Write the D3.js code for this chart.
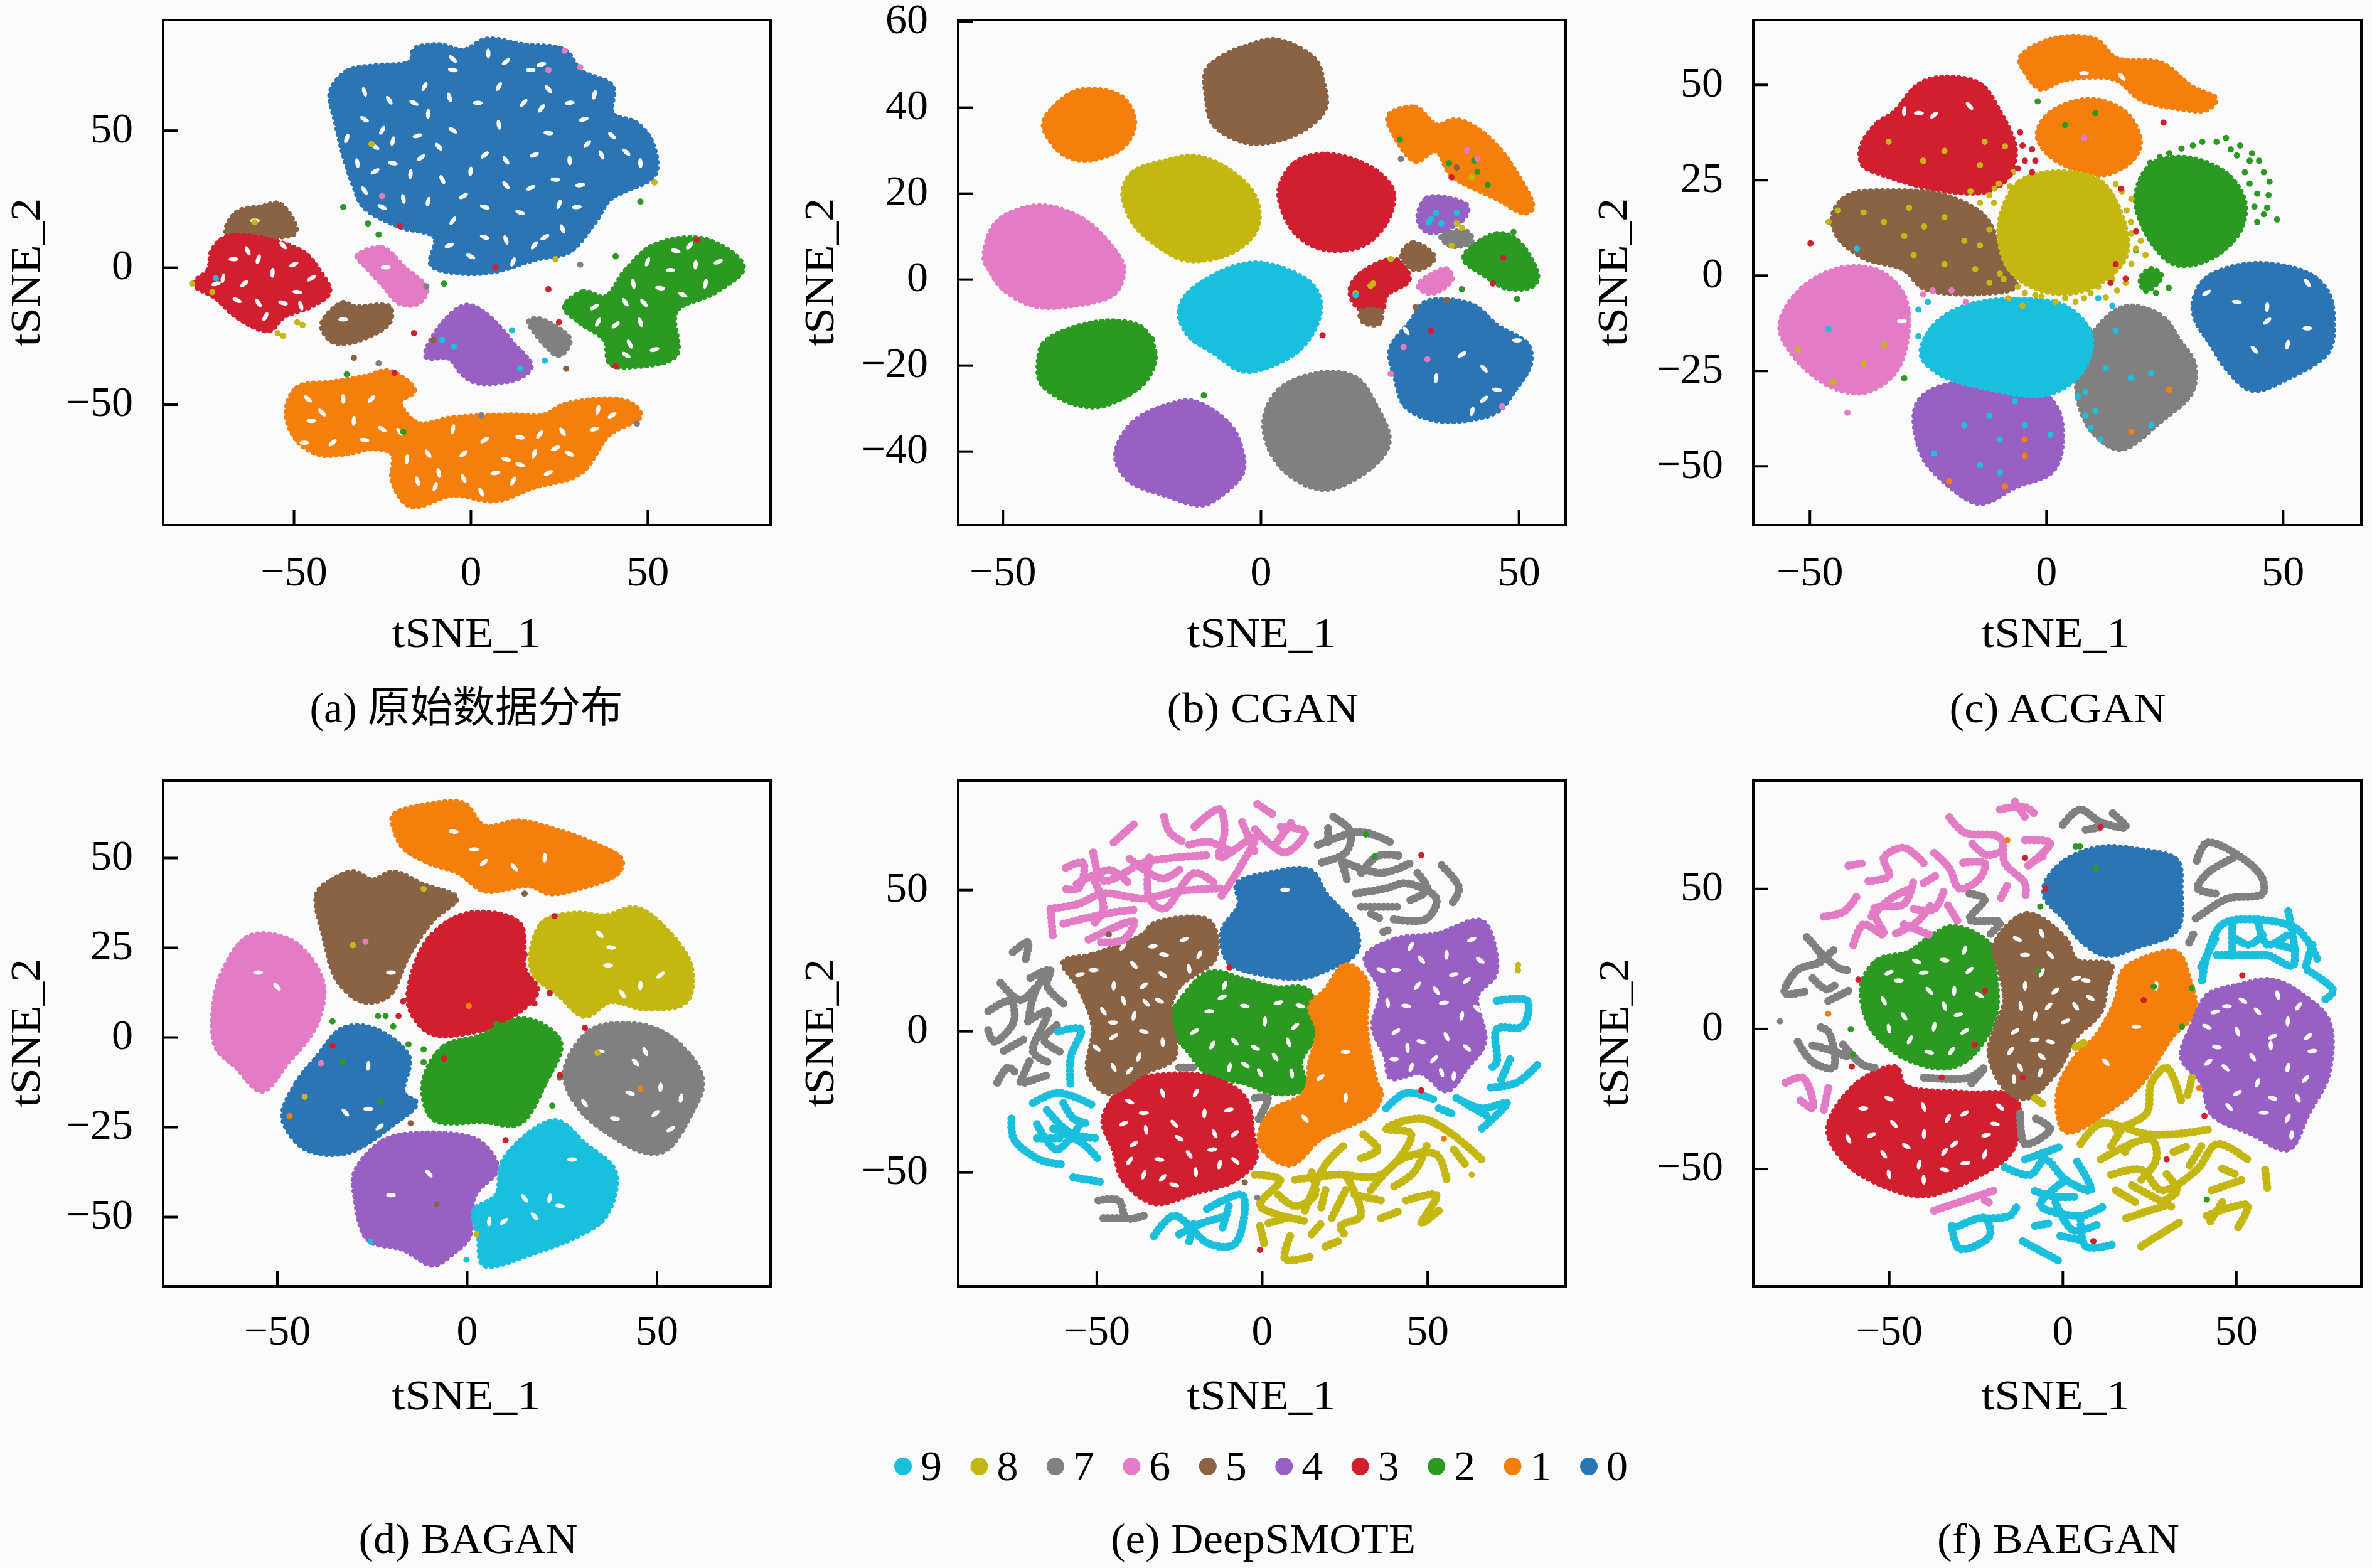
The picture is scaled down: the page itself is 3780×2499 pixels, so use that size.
<!DOCTYPE html>
<html><head><meta charset="utf-8">
<script src="https://cdn.jsdelivr.net/npm/d3@7/dist/d3.min.js"></script>
<style>html,body{margin:0;background:#fbfbfb}svg{display:block}text{font-family:"Liberation Serif","Noto Sans CJK SC",serif;fill:#000}</style>
</head><body><svg id="c" width="3780" height="2499"></svg>
<script>
// Scatter clouds are summarised by values: [class, outline, gaps],
// [class, strand], and [class, individual points], all in tSNE units.
const classes=[0,1,2,3,4,5,6,7,8,9];
const legendOrder=[9,8,7,6,5,4,3,2,1,0];
const classColors=["#2b75b5","#f57f0b","#2c9a22","#d21f2f","#9960c4","#8a6244","#e37cc5","#808080","#c4b711","#19bfdc"];
const xLabel="tSNE_1", yLabel="tSNE_2";
const captions=["(a) 原始数据分布","(b) CGAN","(c) ACGAN","(d) BAGAN","(e) DeepSMOTE","(f) BAEGAN"];
const xTicks=[[-50,0,50],[-50,0,50],[-50,0,50],[-50,0,50],[-50,0,50],[-50,0,50]];
const yTicks=[[-50,0,50],[-40,-20,0,20,40,60],[-50,-25,0,25,50],[-50,-25,0,25,50],[-50,0,50],[-50,0,50]];
const xDomains=[[-86.9,84.8],[-58.6,59.1],[-61.9,66.6],[-80,80],[-91.8,91.8],[-89.1,86.1]];
const yDomains=[[-94.05,90.2],[-57.2,60.3],[-65.5,66.9],[-69.4,71.5],[-90.4,88.7],[-92,88.6]];

const aBlobs=[
[1,[-52,-53,-49,-44,-39,-42,-30,-40,-23,-38,-16,-45,-20,-49,-15,-57,-5,-55,11,-54,21,-54,27,-50,44,-49,48,-54,39,-61,31,-75,18,-80,7,-85,-5,-83,-17,-87,-22,-78,-22,-68,-27,-66,-36,-68,-43,-68,-49,-63],
 [-45,-56,-42,-53,-33,-56,-39,-64,-30,-63,-12,-68,-5,-59,4,-63,10,-70,-2,-77,18,-68,22,-75,28,-68,-15,-78,12,-78,35,-59,-25,-59,-9,-75,19.5,-61,7,-75,-46,-48,-36,-48,-28,-48,-47,-64,-20,-60,-18,-70,-2,-68,14,-62,26,-60,36,-52,40,-54,14,-72,3,-82,-10,-80,24,-66]],
[0,[-39.5,63.9,-34.6,71.6,-27.5,73.3,-16.8,75,-16,79.3,-9,81,-2,79,4.5,83,15,81,26.6,79,31,71.6,40,66,40,56,46.5,52.7,51,46,52,34,39.4,25,35,16.5,28,6,18,3,8,-1,-2,-2,-11,1,-10,11,-20,15,-30,22,-33,30,-36,42,-38,53],
 [17,72,22,65,-12,56,4,41,22,49,10,39,-22,46,-27,35,4,22,-8,32,25,23,17,29,0,4,10,10,-13,66,32,54,-30,54,-19,25,-5,17,31,30,44,42,28,39,15,60,2,60,-9,44,-17,34,10,75,-5,72,-23,61,35,63,21,11,4,11,37,41,-35,47,18,41,-25,22,-30,64,-25,50,-15,48,-5,50,8,52,20,58,28,60,40,48,48,38,33,45,24,32,10,30,0,35,-14,40,-22,38,-30,28,-12,24,-2,26,14,20,26,14,12,2,-6,8,-16,60,-6,62,8,66,20,74,-27,44,-32,38,18,8,30,22,-5,76,5,78]],
[5,[-69,13,-66,20,-59,22,-54,23,-49.5,13,-56,11,-64,11],[-61,17]],
[3,[-78,-6,-74,-1,-73,6,-69,11,-57,10,-47,5,-43,-1,-40,-9,-45,-14,-53,-18,-57,-23,-66,-18,-72,-11],
 [-67,3,-53,8,-56,-2,-64,-6,-49,-9,-60,-13,-70,-4,-45,-4,-53,-13,-63,6,-60,3,-50,1,-66,-12,-48,-14,-58,-18,-72,-6]],
[5,[-42,-21,-36,-13,-33,-14.5,-23,-14.5,-23,-20,-33,-27,-39,-27],[-36,-19]],
[6,[-32,4,-25,7,-19,0,-12.5,-8,-15,-13,-20,-13,-25,-6,-30,1],[-24,0]],
[4,[-12.5,-32.5,-7.5,-20,-1,-14,5,-18,12,-28,17,-36,14,-40,2,-42,-2.5,-38.5,-6,-33],[]],
[2,[26.6,-14.5,32,-9,38,-11,44,-1,52,8,66.5,10,77,0,69,-9,58,-16,58,-32,46.5,-36,39.5,-35,38,-26.5,31,-20],
 [56.5,-1,49,-13,63.6,1,41,-21,53.6,-7.6,43.7,-12.7,66.4,-6,35,-14.5,58,6,45,-28,50,2,70,2,60,-10,48,-20,36,-20,52,-30,44,-32,46,-6,62,8]],
[7,[16.6,-19.6,19.5,-19,28,-26.5,25,-32,21,-28],[]]];
const aStrands=[];
const aSpecks=[
[8,[-54.5,-24,-53,-25,-49,-20,-47.5,-21,-61,16.5,-78.7,-6,-73,-9,-28,45,52,31,24,3]],
[2,[-36,22,-29,16,-26,12,48,24,41,4,-7.5,-6,-35,-39,-19,-60]],
[3,[-20,15,7,0,22,-8,25,-20,-16,-24,64,10,41,-36,-21.5,-38.5]],
[5,[-33,-33,27,-37,-10.5,-26.5]],
[9,[-4.7,-29,11.7,-23,21,-34,-8,-26.5,14,-37,-72,-4]],
[6,[26.6,79,31,73,22,72,-25,26]],
[7,[31,1,-26,-35,-12.5,-7,3,-54,47,-57]]];

const bBlobs=[
[5,[-10.5,48.5,-7,52,-3,54,3,55.6,10.5,51,12,46,12.5,40,8.5,35,1.8,32,-3,32,-9,36,-10.5,43],[]],
[1,[-42,36.4,-40,40,-36,43.5,-31.5,44,-26.6,42,-24.5,36.4,-26.6,31,-32.5,28,-37.4,28.6,-40.8,32.5],[]],
[8,[-26.6,20.4,-24.7,24.8,-17.8,27.6,-13,28.5,-7,26,-1.2,19.3,-0.7,12.2,-5,6.7,-14,4.5,-19.8,7.8,-24.7,13.3],[]],
[3,[3.7,21,6.7,27,12.5,29,20.4,26.5,24.3,23,25.7,19.9,24.3,13.3,19.4,7.8,11.5,7.3,6.7,11,4.2,16.6],[]],
[6,[-53.5,5,-51,13.3,-43,17,-34.4,13.8,-28.4,6.7,-26.6,2.3,-28.4,-3.2,-36.4,-6,-44,-6,-50,-2,-52.5,2.3],[]],
[9,[-15.7,-7.6,-13.9,-3.2,-5,2.9,1.3,3.4,9.6,-1,11.5,-5.4,10.6,-10.9,6.7,-17,-3,-21.3,-9,-17,-13.9,-13],[]],
[2,[-43,-19.7,-42,-15,-36.4,-11.4,-28.6,-9.8,-23,-11.4,-20.5,-18,-22.7,-24,-28.6,-28.5,-32.5,-29.6,-38,-28,-42.5,-24],[]],
[4,[-28,-41,-24.7,-33.4,-17,-29,-13,-28.5,-6,-34,-3.6,-40.5,-3.6,-45,-8,-50.4,-11.4,-52.4,-18.8,-50,-25.6,-46.6],[]],
[7,[0.8,-32.3,3.7,-25.7,11.5,-21.9,18.4,-23,22.3,-29.6,24.8,-37.8,21.3,-43.8,12.5,-48.8,5.7,-45.5,1.8,-39.5],[]],
[0,[25.2,-16.4,29.2,-9.8,32,-5.4,40.9,-6,45.8,-10.9,51.7,-15.3,52.2,-19.7,48.8,-26.3,45.8,-30.7,35,-32.9,28.2,-29.6,26.2,-23],
 [49.7,-14.2,43.3,-20.8,34,-23,43.3,-27.9,45.8,-25.7,28.2,-12,41,-30.7,39,-17.5]],
[1,[24.8,38,30,39.9,34,35.8,38,37,44,33,49.7,24.3,52.6,16.6,51.2,15.5,45.8,18.8,37,24.3,34,30,30,27.6,26.2,33],[]],
[4,[30.6,13.8,32.3,18.8,40,17,39,13.8,32.6,11],[]],
[2,[39.4,5,45.8,10.5,49.7,8.9,53.6,0.7,52.6,-1.5,47.7,-2,43.8,0.7],[]],
[3,[17.4,-2.6,19.4,1.2,26.2,4.5,28.7,0,24.3,-3.7,23.3,-7.6,18.9,-6.5],[]],
[5,[27.4,5.6,29.6,8.4,33.6,5,30,2.3],[]],
[5,[19.4,-7.6,23.3,-7.6,22.8,-10.3,19.9,-9.8],[]],
[6,[30.6,-1.5,36,2.3,37,0,33,-3.2],[]],
[7,[35,10,40,11,40.9,8.9,37,7.8],[]]];
const bStrands=[];
const bSpecks=[
[8,[25.2,4.7,39,12,21.3,-1.5,40.9,23.7,18.4,-3.2,21.8,-1,37,7.8,38,13,40,30]],
[7,[27.2,28]],
[2,[27,32.5,41.4,27.6,49.7,-4.6,39,-2.3,-21,-14,-11,-27,36.5,27,49,11,42,25,44,22]],
[3,[37,23.7,12,-13,33,-12,47,5,45,-1]],
[6,[32.3,-18.6,27.7,-15.8,46.8,-29.6,25.2,-22,40,30,42,28]],
[9,[32.6,13.3,34,15.5,18.4,-3.7,38,15.5,33,14,35,13]],
[5,[36,-4.8,30,-6.5,32.9,4.5,38,26]]];

const cBlobs=[
[1,[-5.5,56.8,0.9,61.7,10.4,61.7,14.7,56.8,24.3,55.5,30.7,49.3,35.8,46.2,33.9,43.5,28.5,43.7,20,46.2,14.7,51.4,4,51.4,-1.3,49,-4.5,53.7],[8,53,16,52]],
[1,[-1.8,37,0.9,42.5,9.4,46,16.8,42.5,19.8,35,17.9,30,11.5,26.4,4,29,-0.2,32.7],[]],
[3,[-39,33.8,-35.4,40,-32.2,42.5,-26.8,50,-21.5,51.8,-14,50,-10.3,43.7,-6.6,32.6,-8.7,25,-13,22,-23.7,22.7,-34.3,26.4,-38.7,29],[-26.9,42.5,-16.2,44.4,-30,43,-23.7,42]],
[5,[-45,15.9,-41.8,20.8,-32.2,22,-21.5,20.8,-13,15.2,-9.8,6.6,-6.6,-2.7,-13,-4.6,-25.8,-3.3,-30,1.6,-38.6,4.7,-44,10.3],[]],
[8,[-9.3,16.5,-5.5,24.5,3,27,11.5,24.5,16.3,14,16.8,5.3,12.6,-0.9,5.1,-4.6,-2.3,-3.3,-7.7,1.6,-9.8,9],[]],
[2,[19,20.2,22.2,28.9,29.6,30.7,38.2,26.4,41.9,19,40.8,11.5,35,4.7,27.5,2.9,22.2,9],[]],
[2,[20,-0.9,22.2,1.6,24.3,-0.2,21,-4],[]],
[6,[-56.2,-13.3,-52.5,-4.6,-44,1.6,-35.4,1,-30,-5.8,-29.5,-17,-32.2,-25.7,-38.6,-30.6,-46,-28.7,-53.5,-20.7],[-30.5,-12]],
[4,[-27.4,-34.3,-22.6,-29.4,-2.3,-30,2.5,-35.6,3,-46.7,0.9,-51.7,-6.6,-55.4,-14,-59.7,-21.5,-54,-26.3,-46.7],[]],
[7,[6.7,-25,10.4,-14.5,16.8,-8.3,24.3,-10.8,28,-17,31.2,-23.2,30.7,-30.6,24.3,-38,15.8,-45.5,10.4,-41.8,7.2,-34.3],[]],
[9,[-26.3,-20.7,-23.7,-13.3,-17.3,-8.3,-6.6,-6.4,4,-8.3,9.4,-15.7,7.2,-25.7,-0.2,-31.2,-13,-29.4,-22.6,-25.7],[]],
[0,[31.2,-7,33.9,-0.9,43.5,2.9,55.2,0.4,59.5,-4.6,60.6,-13.3,59.5,-20,51,-26.9,43.5,-30,38.2,-24.4,35,-18.2,31.8,-12],
 [55.2,-13.9,44,-19.5,46.7,-8.3,46.7,-12,40.3,-7,55.2,-2,51,-18.2,33.9,-4.6]]];
const cStrands=[];
const cSpecks=[
[2,[22,29.5,24,31,26,32,28.6,33.2,31,34,33,35,36,35,38,36,41,34,43.5,32,45,30,46,27,47.2,24.5,47,21,46.7,17.7,48.8,14.6,40.3,31.4,42,27,43,24,44.6,21.4,44,18,44.6,14,46,16,43,30,39,33,-1.8,45.6,10.4,42.5,4,39.4,29.6,12.8,36,16.5,28.6,23.9,19,6.6,23.2,-4.6,25.9,-3.3,-30,-27]],
[8,[-38.6,16.5,-34.3,14,-29,17.7,-25.8,12.8,-21.5,15.2,-17.3,9,-14,7.8,-21.5,2.9,-28,5.3,-15,1.6,-30,10.3,-33.3,35,-21.5,32.6,-13,35,-26,30,-14,28.9,-8.7,33.8,-10.9,22.7,-14,19,17.9,14,20,9,16.8,-2,12.6,-5.8,9.4,-4.6,6.2,-7,-7.7,23.3,-4.5,-4.6,-2.3,-5.2,21,5.3,-9.8,0.4,14.7,23.9,-34.3,-18.2,-38.6,-23.2,-52.5,-19.5,-45,-28,-12,21,18,11,19,7,15,-4,-10,24,-7,27,-11,19,-12,12,17,17,18,20,16,22,18,3,14,-1,11,-3,8,-6,-1,-5.5,-6,-3,-9,-1,-8,-6,-5,-8,-12,-2,2,-7,4,-6,-16,22,-46,14,-44,17]],
[3,[-5.5,37.5,-4.5,30,-2.3,30,-7.7,26.4,15.8,22.7,19,11.5,16.8,-0.9,24.8,40,-49.8,8.4,14.7,2.9,13.6,-2,-5,34,-6,28,-3,27,-8,37,-3,33]],
[9,[8.3,-30.6,12.6,-24.4,17.9,-26.9,22.2,-25.7,14.7,-14.5,10.4,-35.6,9.4,-40,22.2,-39.3,-14,-49.8,-9.8,-43,-23.7,-46.7,-6.6,-33,-9.8,-51.7,-12,-36.8,-4.5,-39.3,-17.3,-39.3,0.9,-41.8,6.7,-31.8,8.3,-36.8,11.5,-43,-40,7,-46,-14,-27,-16,-27,-9,-25,-7,11,-6,14,-8]],
[1,[-4.5,-43,-8.7,-55.4,-20.5,-54,-4.5,-47.3,26,-30,18,-41]],
[6,[-20,-4,-17,-7,8,36,-42,-36,-26,-5,-24,-4]]];

const dBlobs=[
[1,[-19.4,61.6,-8.8,65,-0.8,65,4.5,58.7,13.8,60.1,24.5,57.3,33.8,53.7,40.7,49.4,39.8,45.9,29.8,41.6,21.8,40.1,16.5,42.3,4.5,40.9,-2.1,45.9,-10.1,48.7,-16.8,53,-18.8,57.3],[1.9,52.3,12.5,47.3,20.5,50,4.5,48.7,-3.5,57.3]],
[5,[-39.4,40,-35.4,43.7,-30,46,-24.8,43.7,-19.4,45.9,-11.4,42.3,-2.8,38.7,-8.8,33,-15.4,23,-20.7,11.6,-27.4,10,-34,15.9,-37.4,27.3],[-20,18]],
[3,[-15.4,11.6,-10,27.3,0.5,34.4,13.8,31.6,15.2,18.7,18.5,13,9.8,4.4,1.9,1.6,-8.8,0.9,-14,5.9],[]],
[8,[17.2,18.7,19.8,31.6,28.5,34.4,36.5,33.7,44.5,35.9,52.4,30,59,19.4,57.7,10,47,8,37.8,10,31.1,5.9,24.5,11.6],[37.2,20,35,28.7,45.7,14.4,51,17.3,38,25,41,12]],
[6,[-66.6,8.7,-64,18.7,-57.3,28,-46,26.6,-38,15,-40,3,-47.3,-7,-54,-14.9,-60.6,-8.4,-66,-2.7],[-55,18,-50,14]],
[0,[-48.4,-21.3,-44.7,-12.7,-39.4,-5.6,-32.7,2.3,-24.7,2.3,-15.4,-5.6,-16.8,-15.6,-13.4,-18.4,-19.4,-24.1,-31.4,-32,-42,-31.3,-47.3,-25.6],[-26,-20,-32,-21,-26,-8,-23,-25]],
[2,[-11.4,-12.7,-6,-2.7,3.2,0.1,15.2,5,24.5,-1.3,20.5,-12.7,13.8,-24,4.5,-23.4,-8.8,-22.7],[]],
[7,[25.8,-9.9,32.4,1.6,41.8,3.7,51,1.6,59,-5.6,62,-12.7,59,-21.3,52.4,-31.3,47,-32,37.8,-27,29.8,-19.9],[35,-4,44.4,-7,51,-14,49.7,-21.3,39,-22.7,31,-18.4,56.4,-17,53.7,-25.6,43,-15.6,47,-4]],
[4,[-29.4,-37.7,-22,-29,-14,-27,1.9,-28.4,6.5,-32.7,7.8,-37,1.9,-44.1,0.5,-55.6,-3.5,-59.9,-8.8,-63.4,-16.8,-59,-26,-56.3,-29.4,-44.1],[-20,-44,-10,-38]],
[9,[1.9,-48.4,7.8,-44.1,9.8,-34.1,23.1,-23.4,31.1,-29.9,39,-37.7,36.4,-49.9,28.5,-55.6,17.8,-59.9,4.5,-63.4,3.2,-55.6],[27.7,-34.1,17.8,-49.9,5.9,-51.3,9.8,-51.3,24.5,-47,15.2,-44.9,21.8,-44.9]]];
const dStrands=[];
const dSpecks=[
[2,[-23.4,5.9,-21.4,5.9,-19.4,3,-35.4,4.4,-32.7,-7,-15.4,-2,-11.4,-3.4,-11.4,-7,24.5,-11.3,22.5,-19.1,7.8,3.7,-22.7,-18]],
[3,[-35.4,-2.4,-6,-6,-16.8,10,-18,5.9,17.8,9.4,21.8,12.3,31.1,2.6,10.2,-28.7,24.5,-10.6,15.2,23,23.1,33.7]],
[8,[-42.7,-16.6,34.4,-4.4,-11.4,41.3,-30,25.6,2.5,-54.9]],
[1,[0.5,8.7,45.7,-14.4,-46.7,-22]],
[6,[-38.4,-7.3,-26.7,26.6]],
[9,[-0.1,-62,-25.4,-57]],
[5,[-14.8,-24,15.2,40,-8,-46.6]]];

const eBlobs=[
[0,[-12,35,-6.7,45,-7.5,52,2.4,55.8,14.6,56.7,19.2,48.5,28.4,36,28.4,28,19.2,21.6,11.6,18.8,2.4,19.7,-9.8,24.3],[7,50]],
[2,[-28,2.9,-23.4,12.5,-15.8,20.7,-5.2,18,4,15.2,13.9,14.3,15.4,-2,11.6,-11,13,-20,4,-22,-5.2,-18.3,-15.8,-15.6,-22,-7.4],[-15.9,7,-8.2,-3.8,0.9,3.4,10,1.6,-5.2,8.9,4,-9.2,-9.8,-12.9,-20.4,-0.2,11.6,8.9,-0.6,-14.7,-11.3,16.1,-12,12,-2,-6,8,-4,-15,-5,5,10,-5,-12,9,-15]],
[1,[14.6,8.9,19.2,14.3,25.3,23.4,31.4,18,31.4,1.6,34.5,-18.3,36,-22,33,-29,17.7,-38,8.5,-47.3,-0.6,-40,2.4,-29,13,-22,14.6,-11,16.9,-0.2],[25.3,-7.4,13,-31,25.3,-23.7,17.7,-16.5]],
[3,[-47.9,-31.9,-44.8,-23.7,-40.2,-18.3,-29.6,-15.6,-15.9,-16.5,-5.2,-23.7,-2.9,-36.4,-2.1,-45.5,-8.2,-52.7,-20.4,-57.2,-32.6,-60.9,-41.8,-52.7,-44.8,-41.8],[-35.7,-29,-26.5,-32.8,-17.4,-29.2,-8.2,-36.4,-31,-45.5,-22,-43.7,-12.8,-47.3,-38.7,-40,-26.5,-54.5,-14.3,-36.4,-35.7,-50.9,-41.8,-32.8,-40,-25,-30,-22,-20,-22,-10,-28,-25,-38,-35,-35,-40,-46,-15,-42,-8,-46,-20,-50,-30,-52]],
[5,[-60,24.3,-50.9,27,-35.7,34.2,-32.6,37.9,-15.9,38.8,-14.3,26,-25,16,-28,7,-26.5,-9.2,-35.7,-14.7,-46.3,-21.9,-52.4,-14.7,-50.9,1.6,-55.5,16],[-50.9,21.6,-38.7,23.4,-44.8,16,-35.7,16,-29.6,27,-47.9,7,-38.7,5.3,-44.8,-2,-35.7,-0.2,-44.8,-12.9,-37.2,-9.2,-23.5,32.4,-31,10.7,-41.8,10.7,-18.9,27,-55,20,-30,20,-22,22,-42,30,-33,30,-50,-6,-30,-4,-40,-14,-45,3,-35,10]],
[4,[31.4,26,40.5,32.4,52.7,34.2,66.4,38.8,70.3,29,70.3,19.7,64.9,12.5,67.2,-3.8,61.9,-12.9,55.8,-21,48.2,-14.7,39,-16.5,37.5,-9.2,33.7,1.6,36,14.3],[40.5,21.6,48.2,25.2,55.8,27,61.9,17.9,43.6,8.9,52.7,14.3,60.4,5.3,40.5,-0.2,48.2,-3.8,55.8,-2,45.1,-12.9,63.4,32.4,36,21.6,54.3,-14.7,45,30,58,20,66,25,38,10,47,16,55,10,62,-6,44,-6,52,-10,40,-10,65,8,58,-16]]];
const eStrands=[
[6,[-63.9,43.3,-63.1,32.4]],[6,[-63.9,43.3,-55.5,45,-48,48.7,-35.7,46.9,-25,49.6,-11.3,50.5]],[6,[-59.3,57.8,-54,59.6,-55.5,50.5,-60,50.5]],[6,[-51,63.2,-48,53.3,-35.7,59.6,-26.5,61.4,-15.9,62.3]],[6,[-52.4,32.4,-38.7,38.8,-41.8,32.4,-49.4,31.5]],[6,[-44.8,66.8,-38.7,73.2]],[6,[-29.6,75.9,-28,70.5,-23.5,66.8]],[6,[-20.4,72.3,-12.8,78.6,-11.3,70.5,-12.8,61.4,-2.1,68.7,-6.7,57.8,-12.8,46.9]],[6,[-1.4,80.4,3.2,76.8]],[6,[-2.1,71.4,7,63.2,13,70.5,5.5,72.3]],[6,[-34,61.4,-34,46.9,-29.6,43.3,-20.4,56,-14.3,52.3]],[6,[-51,54.2,-47.9,43.3,-50.9,37.9]],
[6,[-56,52,-46,57,-40,52]],[6,[-40,61,-30,54,-24,58]],[6,[-60,38,-53,40,-45,42,-38,43]],[6,[-22,66,-16,67,-10,64]],[6,[-6,74,-2,63]],[6,[4,66,9,74]],
[7,[21.6,75.9,26.9,70.5,25.3,63.2,17.7,59.6]],[7,[16.9,65.9,29.9,70.5,39,66.8]],[7,[25.3,59.6,36,56,45.1,59.6]],[7,[23.8,61.4,26,52.3]],[7,[28.4,48.7,37.5,50.5,43.6,52.3,52.7,46.9,49.7,39.7,39,39.7]],[7,[33,41.5,36,39.7]],[7,[54.3,58.7,59.6,50.5,57.3,45]],[7,[36.7,35.1,39,36]],
[7,[30,56,35,62,42,62]],[7,[47,56,50,50,44,46]],[7,[30,44,42,44]],[7,[20,67,20,72]],
[7,[-75.3,27.9,-70.7,31.5,-71.5,25.2]],[7,[-70,18.8,-64,21.6,-65,16,-59,8.9]],[7,[-82.7,7,-76,10.7,-75,3.4,-81,-3.8,-83,1.6]],[7,[-70.7,3.4,-64.6,7,-69.2,-7.4,-64.6,-11]],[7,[-80,-18.3,-76.8,-12.9,-74.5,-14.7]],[7,[-71.7,-18.3,-64.8,-15.6]],[7,[-66,19.7,-69,12.5,-70.7,3.4]],[7,[-79,17,-73,11,-68,16]],[7,[-78,-7,-72,-3]],[7,[-62,2,-66,-3,-60,-8]],[7,[-73,-18,-70,-10]],[7,[-49.4,-60,-43.3,-60,-41,-66.3,-35.7,-65.4]],[7,[-47.9,-66.3,-41,-66.3]],[7,[-2.1,-23.7,1.7,-23.7,-1.4,-31.9]],[7,[-25,-12.9,-20.4,-12.9]],
[8,[-2.1,-50.9,5.5,-52.7,-0.6,-61.8,13,-67.2]],[8,[-0.6,-69,0.9,-76.3]],[8,[8.5,-72.6,7,-80.8,14.6,-79.9]],[8,[19.2,-76.3,23,-74.5]],[8,[13,-63.6,19.2,-47.3,25.3,-40]],[8,[10,-52.7,22.3,-50.9,36,-50.9,45.1,-36.4,37.5,-34.6,48.2,-31,57.3,-36.4,66.4,-45.5]],[8,[25.3,-50.9,29.9,-65.4,23.8,-69,25.3,-72.6]],[8,[32.9,-56.3,42,-45.5,52.7,-43.7,55.8,-52.7]],[8,[36,-66.3,42,-63.6]],[8,[43.6,-60,52.7,-58.1,48.2,-68.1,53.5,-63.6]],[8,[19.2,-56.3,17.7,-63.6]],[8,[25.3,-56.3,20.7,-67.2]],
[8,[5,-58,10,-62,16,-58,15,-50]],[8,[30,-45,35,-42,30,-36]],[8,[40,-55,46,-50,50,-40]],[8,[58,-42,62,-48]],[8,[28,-58,36,-60]],[8,[2,-68,8,-66]],[8,[15,-72,18,-68]],
[9,[71,10.7,80.2,10.7,78.7,1.6,71,0.7,71,-11,69.5,-12.9]],[9,[83.2,-12,77,-18.3,68,-20.1]],[9,[37.5,-27.4,43.6,-21.9,52.7,-24.6]],[9,[58.8,-23.7,66.4,-27.4,74,-25.5,66.4,-34.6]],[9,[53.5,-27.4,57.3,-29.2]],[9,[-61.6,-0.2,-54.7,0.7,-57.8,-9.2,-57.8,-20.1]],[9,[-69.2,-25.5,-61.6,-21.9,-50.9,-26.4]],[9,[-75.7,-31,-75,-38.2,-67.3,-45.5,-59.7,-47.3]],[9,[-63.1,-34.6,-54,-40,-49.4,-45.5]],[9,[-60,-25.5,-57,-31,-52.4,-32.8]],[9,[-57,-51.8,-47.9,-53.6]],[9,[-32.6,-72.6,-26.5,-65.4,-15.9,-75.4,-8.2,-75.4,-5.9,-58.1,-17.4,-63.6]],[9,[-22,-74.5,-20.4,-67.2]],
[9,[-68,-33,-62,-42,-55,-33]],[9,[-65,-28,-58,-36,-50,-38]],[9,[-68,-38,-60,-38]],[9,[-25,-72,-18,-68,-12,-66]],[9,[-10,-62,-12,-70]],[9,[75,-10,72,-18]],[9,[62,-26,68,-30]]];
const eSpecks=[[5,[-46.3,34.2,-5.2,-53.6]],[3,[48.2,62.3,48.2,-21,-0.6,-77.5,-9.8,22.5]],[2,[31.4,69.6,34,61.8]],[1,[55,-38.2]],[7,[-1.4,-59]],[8,[63.4,-50.9,77.4,23.4,77.4,21.5]]];

const fBlobs=[
[0,[-4.9,51.8,0.9,60,11,64.6,21.2,63.9,32.9,60,34,50,32.9,35.4,21.2,29.2,12.5,26.3,5.2,31.8,0.9,39,-4.9,46.7],[]],
[2,[-57.4,17.2,-53,24.5,-44.3,27.2,-37,33.6,-31.2,36.3,-21,30,-19.5,20.8,-19.5,4.4,-26.8,-10.2,-34,-13.9,-45.7,-10.2,-54.4,-1,-57.4,8],[-47.2,17.2,-38.4,13.5,-31.2,13.5,-26.8,20.8,-34,24.5,-45.7,4.4,-37,0.7,-28.2,-1,-38.4,-8.4,-51.5,9.9,-28.2,28,-50,20,-42,24,-34,8,-44,-4,-30,5,-24,12,-50,0,-32,-8,-40,20]],
[3,[-67.5,-35.8,-58.8,-19.3,-47.9,-13.9,-45.7,-20.3,-28.2,-23,-13.7,-24.8,-14.4,-43,-26.8,-54,-39.9,-59.5,-50,-56.8,-61.7,-48.5],[-57.4,-28.5,-48.6,-34,-39.9,-37.6,-31.2,-41.2,-19.5,-34,-51.5,-44.9,-41.3,-48.5,-28.2,-30.3,-34,-50.4,-61.7,-39.4,-22.4,-44.9,-55,-38,-50,-25,-40,-28,-33,-32,-22,-38,-45,-42,-50,-52,-34,-44,-28,-48,-18,-28,-40,-54]],
[5,[-19.5,30,-10.2,40.9,0.9,31.8,3.8,24.5,14,22.6,12.5,15.3,11,6.2,3.8,-2.9,-2,-15.7,-10.8,-24.8,-16.6,-21.2,-21,-8.4,-16.6,9.9,-18,20.8],[-10.8,26.3,-3.5,26.3,-10.8,15.3,-2,13.5,6.7,17.2,3.8,8,-7.9,4.4,-13.7,-1,-3.5,-4.7,-12.2,-13.9,-6.4,-15.7,0.9,2.6,-13,32,-6,34,-6,20,4,18,8,11,-12,8,-15,-8,-8,-4,-6,-10,-14,-18,-4,8]],
[1,[17.6,20.8,24.2,25.4,32.9,27.2,36.5,17.2,38,6.2,31.4,-2.9,22.7,-19.3,14,-28.5,0.9,-36.7,-1.3,-23,3.8,-10.2,9.6,-2.9,15.4,9.9],[21.3,0.7,12.5,-12,27,15.3]],
[4,[34.4,-10.2,37.3,0.7,41.7,11.7,50.4,15.3,60.5,17.2,69.3,11.7,76.6,2.6,76.6,-15.7,70.7,-30.3,65,-43,54.8,-37.6,43,-30.3,40.2,-19.3],[47.4,8,56.2,6.2,64.9,2.6,70.7,-2.9,44.5,-6.6,54.8,-10.2,64.9,-13.9,50.4,-23,60.5,-24.8,67.8,-24.8,56.2,-19.3,60.5,-2.9,41.6,0.7,50.4,-1,64.9,-32,44,6,52,10,62,12,68,8,72,-8,47,-14,60,-6,70,-18,58,-30,48,-28,66,-38,42,-12]]];
const fStrands=[
[6,[-61.7,58.2,-57.4,59.1]],[6,[-55.9,52.7,-50,54.6,-51.5,61,-45.7,64.6,-39.9,59]],[6,[-68.8,40,-63,41.8,-58.8,48.2]],[6,[-60.3,29.9,-57.4,37.2,-51.5,33.6,-54.4,42.7,-45.7,44.5,-42.8,53.6]],[6,[-45.7,37.2,-38.4,33.6]],[6,[-42.8,42.7,-37,42.7,-34,50]],[6,[-37,62.8,-32.6,57.3,-29.7,50,-23.9,53.6,-22.4,59.1,-29.7,59.1]],[6,[-32.6,75.5,-28.2,70,-18,68.2,-16.6,59.1,-10.8,51.8,-10.8,46.4]],[6,[-10.8,67.3,-3.5,66.4,-10.8,57.3]],[6,[-18,78.3,-10.8,79.2,-7.9,76.5]],[6,[-13.7,81,-10.8,75.5]],[6,[-79.8,-19.3,-74.8,-17.5,-71.9,-28.5,-76.3,-24.8]],[6,[-67.5,-21.2,-69,-30.3]],[6,[-37,-65,-28.2,-61.3,-19.5,-57.7]],[6,[-22.4,-61.3,-21,-62.2]],
[6,[-55,40,-50,46,-44,50]],[6,[-48,34,-42,38,-38,44]],[6,[-33,44,-30,38]],[6,[-26,66,-22,62,-18,63]],[6,[-16,51,-18,46]],[6,[-8,60,-5,62]],[6,[-40,52,-36,55]],
[7,[0.1,72.8,5,78.3,11,73.7,18.3,71.9,14,77.4]],[7,[6.7,71,11,71.9]],[7,[38.7,60,41.6,66.4,51.8,60.9,57.6,53.6,57.6,48.2,47.4,46.4,40.2,40.9,38,39]],[7,[49.1,60.9,41.7,55.5,39,50,44.5,48.2]],[7,[36.5,30.8,38,34.5]],[7,[-26.8,48.2,-22.4,46.4,-26.8,39,-18,38,-21,33.6]],[7,[-73.7,32.7,-69.3,24.5,-76.6,20.8,-80,12.6,-73.4,13.5]],[7,[-70.4,28,-64.6,21.7,-61.7,20.8]],[7,[-67.5,9.9,-61.7,13.5]],[7,[-76.3,-4.7,-71.9,-12,-66,-13.9,-67.5,-1,-70.4,0.7]],[7,[-63.2,-5.7,-57.4,-13,-53,-13.9]],[7,[-39.9,-17.5,-26.8,-17.5,-22.4,-13.9,-26.8,-20.3]],[7,[-12.2,-30.3,-10.8,-41.2,-3.5,-35.8,-7.9,-32]],
[7,[-72,18,-68,14,-65,16]],[7,[-72,-6,-66,-8,-62,-10]],[7,[-70,24,-66,28]],
[9,[40.2,17.2,41.7,26.3,46,37.2,54.8,39,67.8,35.4,73.6,24.5]],[9,[44.5,26.3,56.2,26.3,59,26.3,66.4,22.6,64.9,42.7]],[9,[48.9,37.2,48.9,24.5]],[9,[56.2,39,59,30,64.9,33.6]],[9,[70.7,20.8,78,13.5,75,9.9]],[9,[-16.6,-49.5,-9.3,-52.2,-5,-46.7,0.9,-54,8.2,-57.7,3.8,-46.7]],[9,[-10.8,-46.7,-0.6,-42.2]],[9,[0.9,-54,-6.4,-63,5.2,-66.8,12.5,-63]],[9,[5.2,-66.8,6.7,-77.7,15.4,-76.8]],[9,[-0.6,-74,6.7,-75.9]],[9,[-11.5,-75.9,-0.6,-83.2]],[9,[-7.9,-70.4,-3.5,-69.5]],[9,[-31.9,-70.4,-29.7,-78.6,-21,-74,-22.4,-67.7,-31.2,-71.3]],[9,[-22.4,-67.7,-15.1,-66.8,-13,-63]],
[9,[50,32,54,30,58,34]],[9,[62,30,68,28]],[9,[44,32,40,22]],[9,[72,30,70,22]],[9,[-8,-58,-2,-60,4,-60]],[9,[-2,-62,3,-72,10,-70]],
[8,[5.2,-41.2,11,-33.9,24.2,-37.6,32.9,-37.6,43,-35.8]],[8,[15.4,-35.8,24.2,-30.3,25.6,-19.3,30,-13.9,34.4,-26.6]],[8,[37.3,-17.5,35.8,-24.8]],[8,[11,-46.7,25.6,-39.4,27,-46.7,22.7,-54]],[8,[14,-52.2,22.7,-50.4,28.5,-57.7,38.7,-50.4,44.5,-41.2,53.3,-46.7]],[8,[15.4,-57.7,21.3,-62.2]],[8,[18.3,-67.7,30,-63]],[8,[22.7,-77.7,34.4,-68.6]],[8,[41.6,-66.8,53.3,-63,50.4,-71.3]],[8,[43,-57.7,51.8,-54]],[8,[58.4,-50.4,59,-56.8]],[8,[-7.9,-24.8,-5,-27.6]],[8,[3.8,-6.6,6.7,-4.7]],
[8,[18,-44,20,-40]],[8,[32,-44,36,-42]],[8,[30,-52,33,-58,28,-62]],[8,[40,-42,36,-50]],[8,[46,-50,50,-52]],[8,[20,-56,26,-60,32,-64]],[8,[46,-62,42,-70]],[8,[14,-42,18,-34]]];
const fSpecks=[
[2,[3.8,65.1,5,65.1,9.6,57.3,-6.4,43.6,34.4,0.7,37.3,14.4,26.3,15,-60.3,-9.3,-61,-0.2,-7,20.8,41.6,-61]],
[3,[11,71.9,-10.8,61,-4.9,50,-58.8,17.5,-22.4,13.5,-25.3,-5.7,51.8,19,23.4,10.2,30,-46.7,40.9,-31.2,8.9,-75.9,-11.5,-17.5,-60.7,-13.5,-34.8,-17.5]],
[1,[-15.9,67.3,39.4,-21.2,-67.5,5.3]],
[7,[-81.4,2.6]]];

const allBlobs=[aBlobs,bBlobs,cBlobs,dBlobs,eBlobs,fBlobs];
const allStrands=[aStrands,bStrands,cStrands,dStrands,eStrands,fStrands];
const allSpecks=[aSpecks,bSpecks,cSpecks,dSpecks,eSpecks,fSpecks];

// Layout (pixels)
const BG="#fbfbfb", FS=68;
const frames=[[260,1228,32,837],[1527,2495,32,837],[2794,3763,32,837],[260,1228,1244,2050],[1527,2495,1244,2050],[2794,3763,1244,2050]];
const xLabelPos=[[743,1031],[2010,1031],[3276,1031],[743,2246],[2010,2246],[3276,2246]];
const yLabelPos=[[63,434],[1328,434],[2592,434],[63,1646],[1328,1646],[2594,1646]];
const capPos=[[743,1151,499],[2012,1151,305],[3279,1151,345],[746,2475,349],[2013,2475,486],[3280,2475,386]];

const color=d3.scaleOrdinal(classes,classColors);
const pairs=f=>d3.range(0,f.length,2).map(i=>[f[i],f[i+1]]);
const svg=d3.select("#c");
svg.append("rect").attr("width",3780).attr("height",2499).attr("fill",BG);

frames.forEach((fr,i)=>{
  const [L,R,T,B]=fr;
  const x=d3.scaleLinear(xDomains[i],[L,R]), y=d3.scaleLinear(yDomains[i],[B,T]);
  const g=svg.append("g");
  const line=d3.line().x(d=>x(d[0])).y(d=>y(d[1])).curve(d3.curveCatmullRom.alpha(0.5));
  const closed=d3.line().x(d=>x(d[0])).y(d=>y(d[1])).curve(d3.curveCatmullRomClosed.alpha(0.5));
  allBlobs[i].forEach(([c,o,h])=>{
    g.append("path").attr("d",closed(pairs(o))).attr("fill",color(c)).attr("stroke",color(c))
      .attr("stroke-width",10).attr("stroke-linecap","round").attr("stroke-dasharray","0.1 9");
    g.selectAll(null).data(pairs(h)).join("ellipse").attr("rx",8).attr("ry",3.5).attr("fill",BG)
      .attr("transform",(d,k)=>`translate(${x(d[0])},${y(d[1])}) rotate(${(k*47)%180})`);
  });
  allStrands[i].forEach(([c,s])=>{
    g.append("path").attr("d",line(pairs(s))).attr("fill","none").attr("stroke",color(c))
      .attr("stroke-width",13).attr("stroke-linecap","round").attr("stroke-linejoin","round").attr("stroke-dasharray","0.1 7");
  });
  allSpecks[i].forEach(([c,p])=>{
    g.selectAll(null).data(pairs(p)).join("circle").attr("cx",d=>x(d[0])).attr("cy",d=>y(d[1])).attr("r",5).attr("fill",color(c));
  });
  const pad=i<3?48:45;
  const ax=svg.append("g").attr("transform",`translate(0,${B})`)
    .call(d3.axisBottom(x).tickValues(xTicks[i]).tickSizeInner(-24).tickSizeOuter(0).tickPadding(pad));
  const ay=svg.append("g").attr("transform",`translate(${L},0)`)
    .call(d3.axisLeft(y).tickValues(yTicks[i]).tickSizeInner(-24).tickSizeOuter(0).tickPadding(48));
  [ax,ay].forEach(a=>{a.select(".domain").remove();a.selectAll("line").attr("stroke","#000").attr("stroke-width",4);
    a.selectAll("text").style("font-size",FS+"px").style("font-family",'"Liberation Serif",serif').attr("fill","#000");});
  ay.selectAll("text").attr("dy","0.27em");
  svg.append("rect").attr("x",L).attr("y",T).attr("width",R-L).attr("height",B-T).attr("fill","none").attr("stroke","#000").attr("stroke-width",4);
  svg.append("text").attr("x",xLabelPos[i][0]).attr("y",xLabelPos[i][1]).attr("text-anchor","middle").style("font-size",FS+"px")
    .attr("textLength",237).attr("lengthAdjust","spacingAndGlyphs").text(xLabel);
  svg.append("text").attr("transform",`translate(${yLabelPos[i][0]},${yLabelPos[i][1]}) rotate(-90)`).attr("text-anchor","middle").style("font-size",FS+"px")
    .attr("textLength",237).attr("lengthAdjust","spacingAndGlyphs").text(yLabel);
  svg.append("text").attr("x",capPos[i][0]).attr("y",capPos[i][1]).attr("text-anchor","middle").style("font-size",FS+"px")
    .attr("textLength",capPos[i][2]).attr("lengthAdjust","spacingAndGlyphs").text(captions[i]);
});

const lx=d3.scalePoint(legendOrder,[1439,2532]);
const lg=svg.append("g");
lg.selectAll("circle").data(legendOrder).join("circle").attr("cx",d=>lx(d)).attr("cy",2337).attr("r",14).attr("fill",d=>color(d));
lg.selectAll("text").data(legendOrder).join("text").attr("x",d=>lx(d)+45).attr("y",2359).attr("text-anchor","middle").style("font-size",FS+"px").text(d=>d);
</script></body></html>
